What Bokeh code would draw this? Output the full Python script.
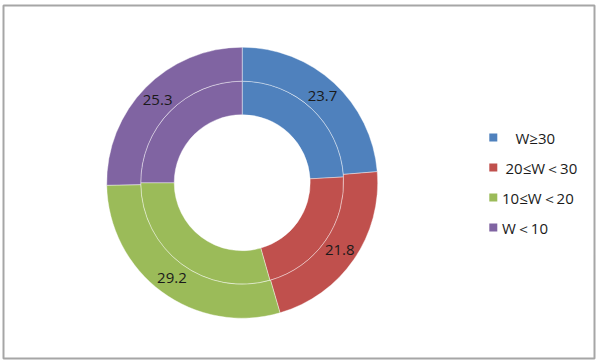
import numpy as np
from bokeh.plotting import figure
from bokeh.models import Range1d, ColumnDataSource
from bokeh.embed import file_html
from bokeh.resources import INLINE
from bokeh.core.properties import value

# ---- data ----
categories = ["W≥30", "20≤W＜30", "10≤W＜20", "W＜10"]
outer_values = [23.7, 21.8, 29.2, 25.3]
inner_values = [24.1, 21.5, 29.4, 25.0]
colors = ["#4F81BD", "#C0504D", "#9BBB59", "#8064A2"]

# ---- layout (data units == screen pixels; y measured upward from 362) ----
W, H = 597, 360
PH = 362
CX, CY = 241.7, PH - 182.2
R_IN, R_MID, R_OUT = 68.0, 101.5, 135.5
LEG_X = 492.8
LEG_Y0, LEG_DY = PH - 137.0, 30.0
LEG_TEXT_X = [515.0, 505.0, 501.5, 501.5]
FONT = value("Open Sans")


def wedge_angles(vals):
    v = np.asarray(vals, dtype=float)
    frac = v / v.sum()
    cum = np.concatenate([[0.0], np.cumsum(frac)])
    start = np.pi / 2 - 2 * np.pi * cum[:-1]
    end = np.pi / 2 - 2 * np.pi * cum[1:]
    mid = (start + end) / 2
    return start, end, mid


p = figure(width=W, height=H, x_range=Range1d(0, W), y_range=Range1d(PH - H, PH),
           output_backend="svg", toolbar_location=None, min_border=0,
           x_axis_type=None, y_axis_type=None)
p.grid.visible = False
p.outline_line_color = None
p.background_fill_color = "white"
p.border_fill_color = "white"

# chart-area frame
p.quad(left=[3], right=[594], top=[PH - 5], bottom=[PH - 358],
       fill_color=None, line_color="#a6a6a6", line_width=2)

# inner ring
s_in, e_in, _ = wedge_angles(inner_values)
src_in = ColumnDataSource(dict(start=s_in, end=e_in, color=colors))
p.annular_wedge(x=CX, y=CY, inner_radius=R_IN, outer_radius=R_MID,
                start_angle="start", end_angle="end", direction="clock",
                fill_color="color", line_color="white", line_alpha=0.4,
                line_width=1, source=src_in)

# outer ring
s_out, e_out, m_out = wedge_angles(outer_values)
src_out = ColumnDataSource(dict(start=s_out, end=e_out, color=colors))
p.annular_wedge(x=CX, y=CY, inner_radius=R_MID, outer_radius=R_OUT,
                start_angle="start", end_angle="end", direction="clock",
                fill_color="color", line_color="white", line_alpha=0.4,
                line_width=1, source=src_out)

# data labels on the outer ring
r_lab = (R_MID + R_OUT) / 2
lab_src = ColumnDataSource(dict(
    x=CX + r_lab * np.cos(m_out),
    y=CY + r_lab * np.sin(m_out),
    t=[f"{v:.1f}" for v in outer_values]))
p.text(x="x", y="y", text="t", source=lab_src, text_font=FONT,
       text_font_size="15px", text_color="#1a1a1a",
       text_align="center", text_baseline="middle")

# legend
leg_y = [LEG_Y0 - i * LEG_DY for i in range(len(categories))]
p.rect(x=[LEG_X] * len(categories), y=leg_y, width=8, height=8,
       fill_color=colors, line_color=None)
p.text(x=LEG_TEXT_X, y=leg_y, text=categories, text_font=FONT,
       text_font_size="15px", text_color="#1a1a1a",
       text_align="left", text_baseline="middle")

open("out.html", "w").write(file_html(p, INLINE))
